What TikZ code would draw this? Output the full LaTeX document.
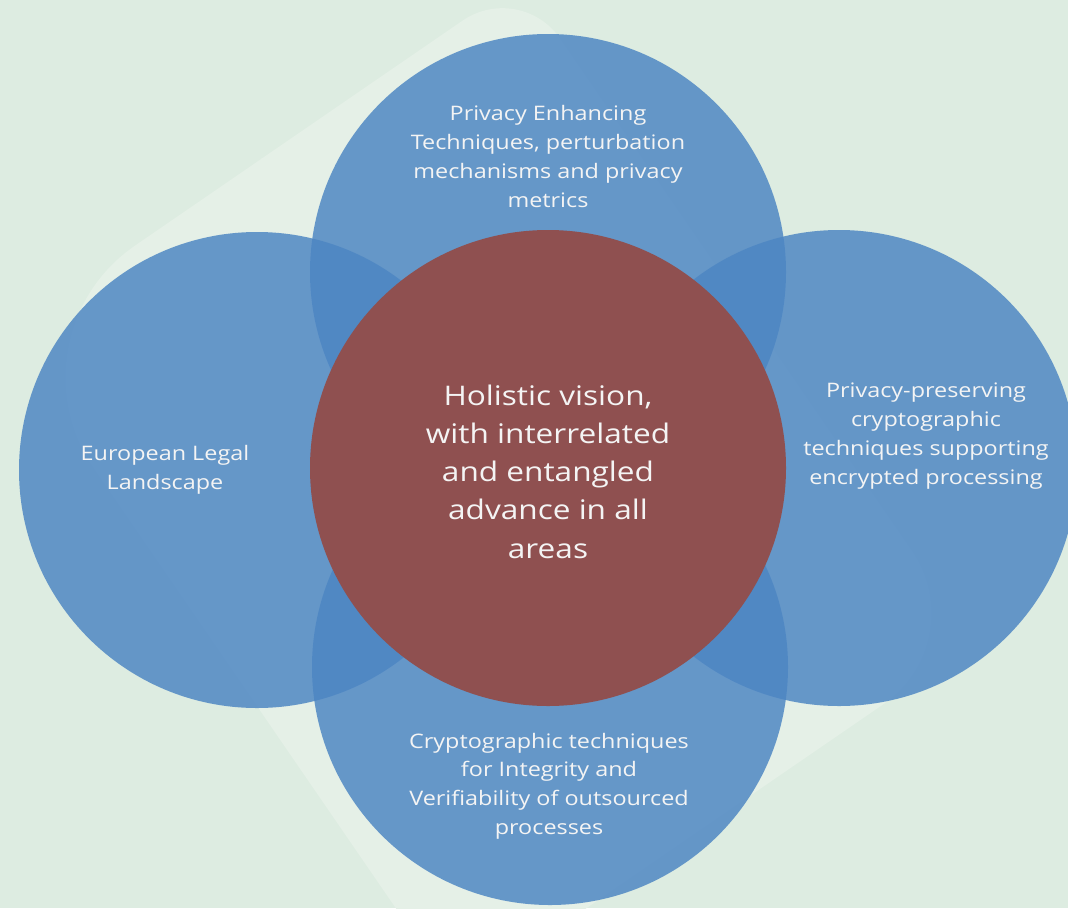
\documentclass[tikz,border=0pt]{standalone}
\usepackage{fontspec}
\setmainfont{Open Sans}[FakeStretch=1.17]
\definecolor{bggreen}{HTML}{DDECE1}
\definecolor{lightgreen}{HTML}{E5F0E7}
\definecolor{circblue}{RGB}{77,134,195}
\definecolor{centerred}{HTML}{8F5050}
\definecolor{txtwhite}{HTML}{F4F4F4}
\tikzset{
  petal/.style={circle, fill=circblue, fill opacity=0.84, minimum size=476pt, inner sep=0pt, draw=none},
  core/.style={circle, fill=centerred, minimum size=476pt, inner sep=0pt, draw=none},
  lbl/.style={text=txtwhite, align=center, font=\fontsize{20}{28.8}\selectfont, inner sep=0pt},
  corelbl/.style={text=txtwhite, align=center, font=\fontsize{27}{38.3}\selectfont, inner sep=0pt},
}
\newcommand{\backquad}[5]{%
  \begin{scope}
    \clip (#1,#2) -- (#3,#2) -- (#3,#4) -- (#1,#4) -- cycle;
    \fill[lightgreen, rounded corners=#5] (-314,-401) -- (314,-401) -- (314,401) -- (-314,401) -- cycle;
  \end{scope}}
\begin{document}
\begin{tikzpicture}[x=1pt,y=-1pt]
\useasboundingbox (0,0) rectangle (1068,908);
\clip (0,0) rectangle (1068,908);
\fill[bggreen] (0,0) rectangle (1068,908);
% light rotated backdrop, one rounding radius per corner
\begin{scope}[shift={(488.7,489)}, x={(0.824pt,0.566pt)}, y={(0.566pt,-0.824pt)}]
  \backquad{-340}{-430}{1}{1}{160pt}
  \backquad{-1}{-430}{340}{1}{70pt}
  \backquad{-1}{-1}{340}{430}{110pt}
  \backquad{-340}{-1}{1}{430}{70pt}
\end{scope}
% petals
\node[petal] (ptop) at (548,272) {};
\node[petal] (pleft) at (257,470) {};
\node[petal] (pright) at (839,468) {};
\node[petal] (pbottom) at (550,667) {};
\node[core] (core) at (548,468) {};
% labels
\node[lbl] (ttop) at (548,156.5) {Privacy Enhancing\\Techniques, perturbation\\mechanisms and privacy\\metrics};
\node[lbl] (tleft) at (165,469.5) {European Legal\\Landscape};
\node[lbl] (tright) at (926,436) {Privacy-preserving\\cryptographic\\techniques supporting\\encrypted processing};
\node[lbl] (tbottom) at (549,786) {Cryptographic techniques\\for Integrity and\\Verifiability of outsourced\\processes};
\node[corelbl] (tcore) at (548,471.5) {Holistic vision,\\with interrelated\\and entangled\\advance in all\\areas};
\end{tikzpicture}
\end{document}
